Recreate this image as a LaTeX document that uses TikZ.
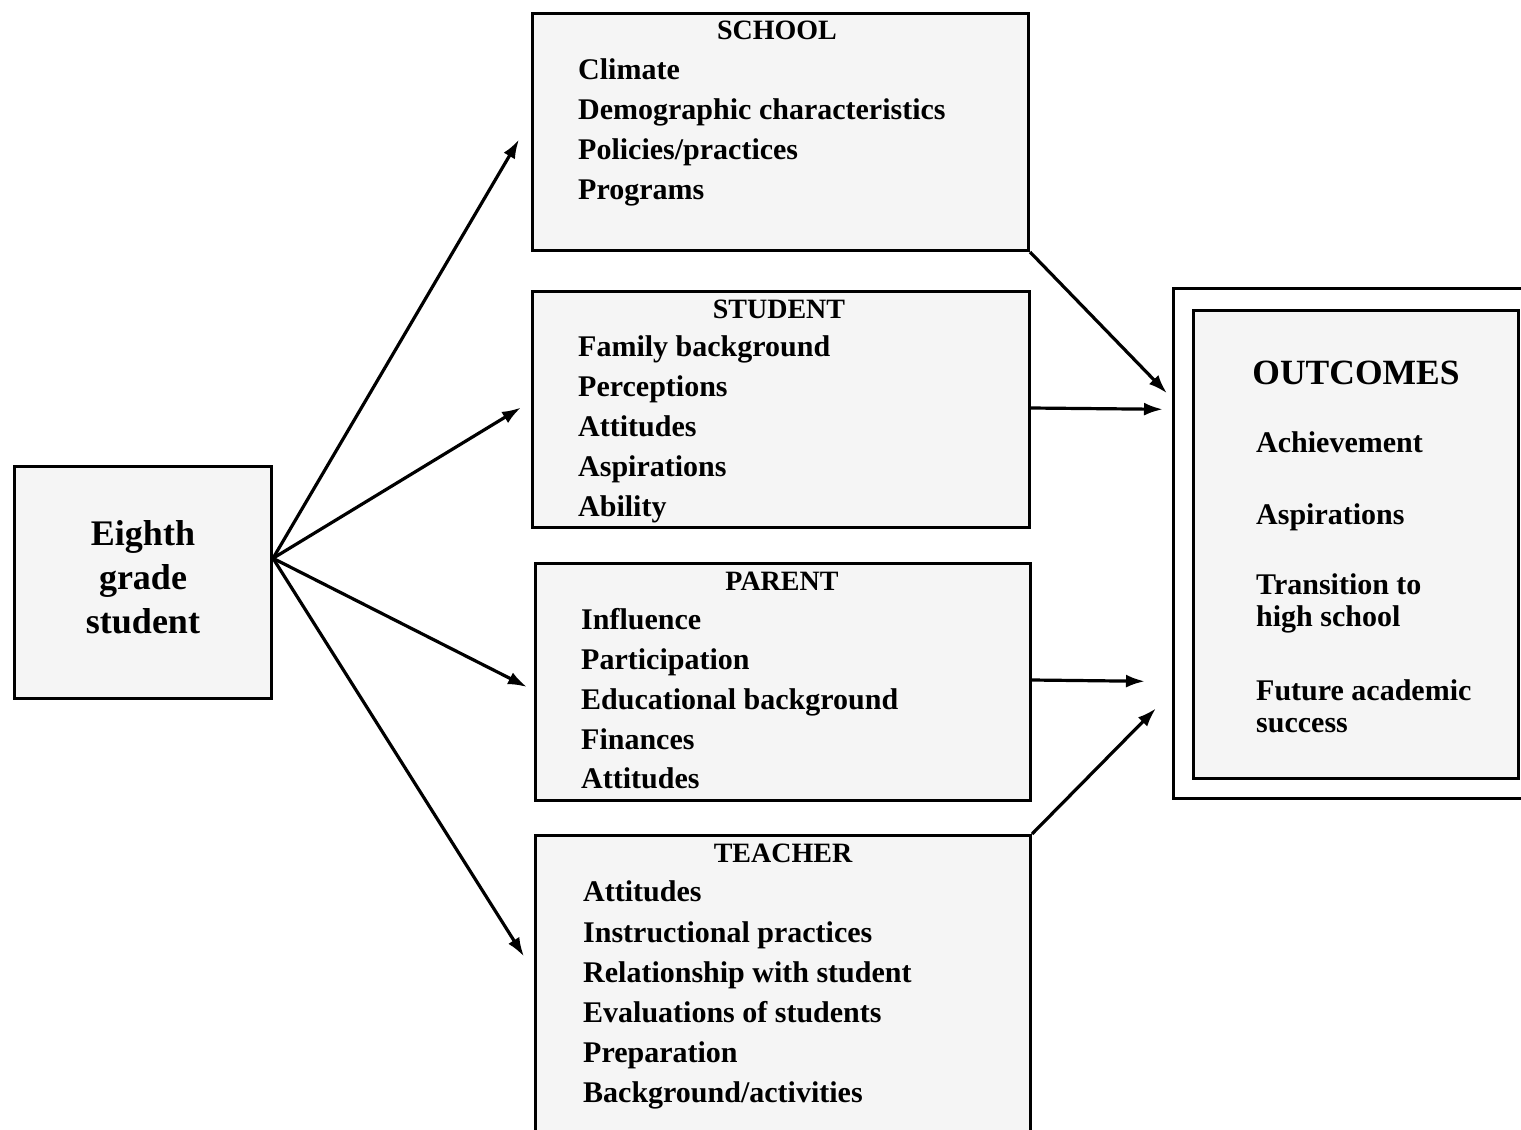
\documentclass[tikz,border=0pt]{standalone}
\usepackage{fontspec}
\setmainfont{Liberation Serif}
\usetikzlibrary{calc,arrows.meta}
\tikzset{
  box/.style={draw=black, line width=3pt, fill=black!4, inner sep=0pt, anchor=north west},
  frame/.style={draw=black, line width=2.6pt, fill=white, inner sep=0pt, anchor=north west},
  item/.style={anchor=west, inner sep=0pt, text height=20pt, text depth=6pt, font=\fontsize{30}{32}\selectfont\bfseries},
  ttl/.style={anchor=center, inner sep=0pt, text height=18pt, text depth=0pt, font=\fontsize{28}{30}\selectfont\bfseries},
  big/.style={anchor=center, inner sep=0pt, align=center, font=\fontsize{36}{44}\selectfont\bfseries},
  arr/.style={line width=3.2pt, -{Latex[length=19pt,width=13pt]}}
}
\begin{document}
\begin{tikzpicture}[x=1pt,y=-1pt]
\clip (0,0) rectangle (1521,1130);
\fill[white] (0,0) rectangle (1521,1130);
% boxes
\node[box, minimum width=257pt, minimum height=232pt] (eighth) at (13,465) {};
\node[box, minimum width=496pt, minimum height=237pt] (school) at (531,12) {};
\node[box, minimum width=497pt, minimum height=236pt] (student) at (531,290) {};
\node[box, minimum width=495pt, minimum height=237pt] (parent) at (534,562) {};
\node[box, minimum width=495pt, minimum height=310pt] (teacher) at (534,834) {};
\node[frame, minimum width=400pt, minimum height=510pt] (outc) at (1172,287) {};
\node[box, minimum width=325pt, minimum height=468pt] (outin) at (1192,309) {};
% eighth grade
\node[big] (t-eighth) at (143,577) {Eighth\\grade\\student};
% school
\node[ttl] (t-school) at (777,30) {SCHOOL};
\node[item] (s1) at (578,72) {Climate};
\node[item] (s2) at (578,112) {Demographic characteristics};
\node[item] (s3) at (578,152) {Policies/practices};
\node[item] (s4) at (578,192) {Programs};
% student
\node[ttl] (t-student) at (779,309) {STUDENT};
\node[item] (u1) at (578,349) {Family background};
\node[item] (u2) at (578,389) {Perceptions};
\node[item] (u3) at (578,429) {Attitudes};
\node[item] (u4) at (578,469) {Aspirations};
\node[item] (u5) at (578,509) {Ability};
% parent
\node[ttl] (t-parent) at (782,581) {PARENT};
\node[item] (p1) at (581,622) {Influence};
\node[item] (p2) at (581,662) {Participation};
\node[item] (p3) at (581,702) {Educational background};
\node[item] (p4) at (581,742) {Finances};
\node[item] (p5) at (581,781) {Attitudes};
% teacher
\node[ttl] (t-teacher) at (783,853) {TEACHER};
\node[item] (r1) at (583,894) {Attitudes};
\node[item] (r2) at (583,935) {Instructional practices};
\node[item] (r3) at (583,975) {Relationship with student};
\node[item] (r4) at (583,1015) {Evaluations of students};
\node[item] (r5) at (583,1055) {Preparation};
\node[item] (r6) at (583,1095) {Background/activities};
% outcomes
\node[anchor=center, inner sep=0pt, text height=24pt, text depth=0pt, font=\fontsize{35.5}{40}\selectfont\bfseries] (t-outc) at (1356,372) {OUTCOMES};
\node[item] (o1) at (1256,445) {Achievement};
\node[item] (o2) at (1256,517) {Aspirations};
\node[item, align=left, text height=, text depth=, font=\fontsize{30}{32}\selectfont\bfseries] (o3) at (1256,603) {Transition to\\high school};
\node[item, align=left, text height=, text depth=, font=\fontsize{30}{32}\selectfont\bfseries] (o4) at (1256,706) {Future academic\\success};
% arrows
\coordinate (hub) at ($(eighth.north east)!0.397!(eighth.south east)$);
\draw[arr] (hub) -- ([xshift=-12pt,yshift=-7.5pt]school.west);
\draw[arr] (hub) -- ([xshift=-10pt,yshift=2pt]student.west);
\draw[arr] (hub) -- ([xshift=-7pt,yshift=-5pt]parent.west);
\draw[arr] (hub) -- ([xshift=-10pt,yshift=34pt]teacher.west);
\draw[arr] (school.south east) -- ([xshift=-5pt,yshift=150pt]outc.west);
\draw[arr] (student.east |- 0,408) -- ([xshift=-9pt,yshift=134pt]outc.west);
\draw[arr] (parent.east |- 0,680) -- ([xshift=-27pt,yshift=-138pt]outc.west);
\draw[arr] (teacher.north east) -- ([xshift=-16pt,yshift=-165pt]outc.west);
\end{tikzpicture}
\end{document}
